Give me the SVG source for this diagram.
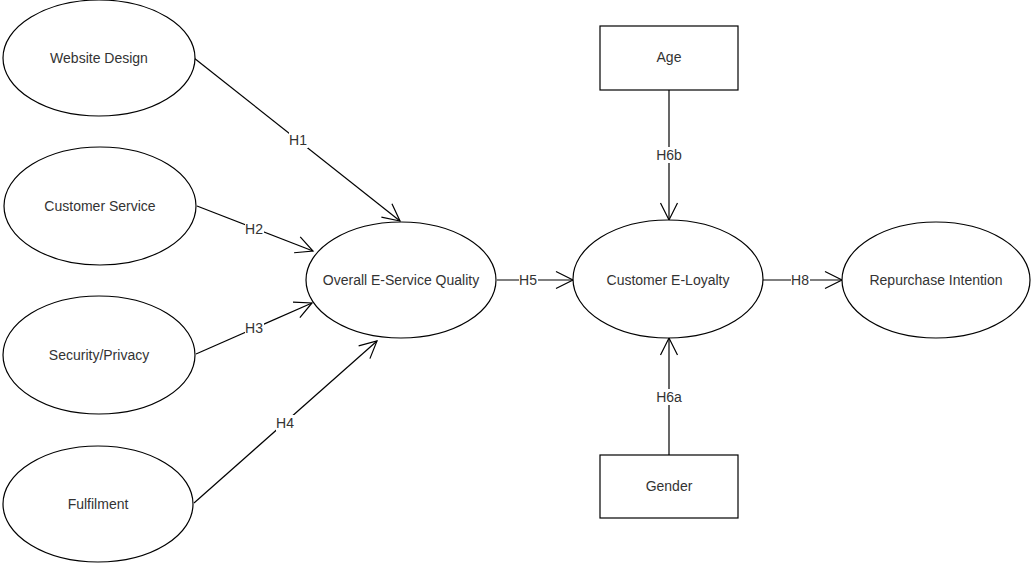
<svg xmlns="http://www.w3.org/2000/svg" width="1032" height="563" viewBox="0 0 1032 563">
  <style>
    .shape { fill: #ffffff; stroke: #000000; stroke-width: 1.2; }
    .label { font-family: "Liberation Sans", Arial, sans-serif; font-size: 14px; fill: #333333; text-anchor: middle; dominant-baseline: central; }
    .edge { fill: none; stroke: #000000; stroke-width: 1.2; marker-end: url(#open); }
    .tagbg { fill: #ffffff; stroke: none; }
  </style>
  <defs>
    <marker id="open" markerUnits="userSpaceOnUse" viewBox="-19 -10 21 20" refX="0" refY="0" markerWidth="21" markerHeight="20" orient="auto">
      <path d="M -17 -8.5 L 0 0 L -17 8.5" fill="none" stroke="#000000" stroke-width="1.2"/>
    </marker>
  </defs>
  <rect width="1032" height="563" fill="#ffffff"/>

  <!-- connectors -->
  <g id="connectors">
    <line class="edge" x1="194" y1="58" x2="400" y2="221"/>
    <line class="edge" x1="197" y1="206" x2="313" y2="251"/>
    <line class="edge" x1="196" y1="354" x2="312" y2="303"/>
    <line class="edge" x1="194" y1="503" x2="377" y2="341"/>
    <line class="edge" x1="497" y1="280" x2="573" y2="280"/>
    <line class="edge" x1="669" y1="90" x2="669" y2="220"/>
    <line class="edge" x1="669" y1="455" x2="669" y2="338"/>
    <line class="edge" x1="763" y1="280" x2="842" y2="280"/>

    <rect class="tagbg" x="289" y="132" width="19" height="16"/>
    <text class="label" x="298" y="140">H1</text>
    <rect class="tagbg" x="245" y="221" width="19" height="16"/>
    <text class="label" x="254" y="229">H2</text>
    <rect class="tagbg" x="245" y="320" width="19" height="16"/>
    <text class="label" x="254" y="328">H3</text>
    <rect class="tagbg" x="276" y="415" width="19" height="16"/>
    <text class="label" x="285" y="423">H4</text>
    <rect class="tagbg" x="519" y="272" width="19" height="16"/>
    <text class="label" x="528" y="280">H5</text>
    <rect class="tagbg" x="656" y="147" width="26" height="16"/>
    <text class="label" x="669" y="155">H6b</text>
    <rect class="tagbg" x="656" y="389" width="26" height="16"/>
    <text class="label" x="669" y="397">H6a</text>
    <rect class="tagbg" x="791" y="272" width="19" height="16"/>
    <text class="label" x="800" y="280">H8</text>
  </g>

  <g id="website-design">
    <ellipse class="shape" cx="99" cy="58" rx="96" ry="58"/>
    <text class="label" x="99" y="58">Website Design</text>
  </g>
  <g id="customer-service">
    <ellipse class="shape" cx="100" cy="206" rx="96" ry="59"/>
    <text class="label" x="100" y="206">Customer Service</text>
  </g>
  <g id="security-privacy">
    <ellipse class="shape" cx="99" cy="355" rx="96" ry="59"/>
    <text class="label" x="99" y="355">Security/Privacy</text>
  </g>
  <g id="fulfilment">
    <ellipse class="shape" cx="98" cy="504" rx="95" ry="58"/>
    <text class="label" x="98" y="504">Fulfilment</text>
  </g>
  <g id="overall-quality">
    <ellipse class="shape" cx="401" cy="280" rx="95" ry="58"/>
    <text class="label" x="401" y="280">Overall E-Service Quality</text>
  </g>
  <g id="customer-loyalty">
    <ellipse class="shape" cx="668" cy="279" rx="95" ry="59"/>
    <text class="label" x="668" y="280">Customer E-Loyalty</text>
  </g>
  <g id="repurchase-intention">
    <ellipse class="shape" cx="936" cy="280" rx="94" ry="58"/>
    <text class="label" x="936" y="280">Repurchase Intention</text>
  </g>
  <g id="age">
    <rect class="shape" x="600" y="26" width="138" height="64"/>
    <text class="label" x="669" y="57">Age</text>
  </g>
  <g id="gender">
    <rect class="shape" x="600" y="455" width="138" height="63"/>
    <text class="label" x="669" y="486">Gender</text>
  </g>
</svg>
